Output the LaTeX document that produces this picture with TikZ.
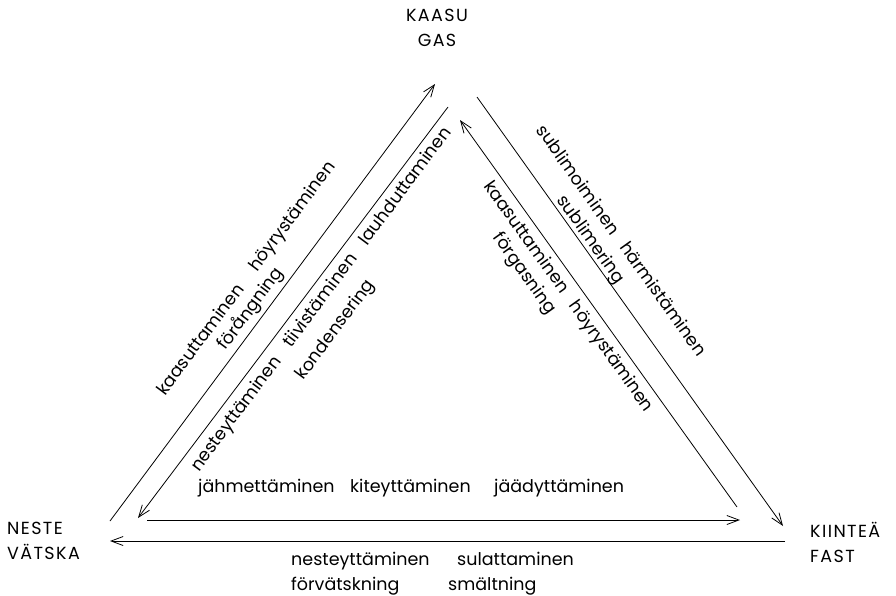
\documentclass[tikz,border=0pt]{standalone}
\usepackage{fontspec}
\setmainfont{Poppins}
\usetikzlibrary{arrows.meta}
\begin{document}
\begin{tikzpicture}[x=1pt,y=-1pt,
  lbl/.style={font=\fontsize{17.5}{17.5}\selectfont, inner sep=0pt},
  phase/.style={font=\fontsize{17.5}{25}\selectfont\addfontfeatures{LetterSpace=8}, align=left, inner sep=0pt},
  conn/.style={line width=0.8pt, -{Straight Barb[length=12pt,width=9pt,line width=0.8pt]}}]
\useasboundingbox (0,0) rectangle (896,595);
% phases
\node[phase, align=center] (gas) at (437,28) {KAASU\\GAS};
\node[phase, anchor=west] (liq) at (7,541) {NESTE\\VÄTSKA};
\node[phase, anchor=west] (sol) at (810,542) {KIINTEÄ\\FAST};
% connector end points
\coordinate (l1s) at (110,521); \coordinate (l1e) at (435,84);
\coordinate (l2s) at (448,107); \coordinate (l2e) at (138,518);
\coordinate (r1s) at (737,507); \coordinate (r1e) at (460,120);
\coordinate (r2s) at (477,97);  \coordinate (r2e) at (783,526);
\coordinate (h1s) at (147,520); \coordinate (h1e) at (740,520);
\coordinate (h2s) at (785,541); \coordinate (h2e) at (110,541);
\draw[conn] (l1s) -- (l1e);
\draw[conn] (l2s) -- (l2e);
\draw[conn] (r1s) -- (r1e);
\draw[conn] (r2s) -- (r2e);
\draw[conn] (h1s) -- (h1e);
\draw[conn] (h2s) -- (h2e);
% left side labels
\node[lbl, rotate=53.4] (a1) at (247,279) {kaasuttaminen\hspace{1.2em}höyrystäminen};
\node[lbl, rotate=53.4] (a2) at (251,309) {förångning};
\node[lbl, rotate=53.4] (b1) at (322,300) {nesteyttäminen\hspace{0.9em}tiivistäminen\hspace{0.9em}lauhduttaminen};
\node[lbl, rotate=53.4] (b2) at (336,330) {kondensering};
% right side labels
\node[lbl, rotate=-54.5] (c1) at (622,240) {sublimoiminen\hspace{0.8em}härmistäminen};
\node[lbl, rotate=-54.5] (c2) at (590,240) {sublimering};
\node[lbl, rotate=-54.5] (d1) at (568,297) {kaasuttaminen\hspace{0.8em}höyrystäminen};
\node[lbl, rotate=-54.5] (d2) at (524,274) {förgasning};
% bottom labels
\node[lbl, anchor=base west] (e1) at (198,492) {jähmettäminen};
\node[lbl, anchor=base west] (e2) at (350,492) {kiteyttäminen};
\node[lbl, anchor=base west] (e3) at (494,492) {jäädyttäminen};
\node[lbl, anchor=base west] (f1) at (291,565) {nesteyttäminen};
\node[lbl, anchor=base west] (f2) at (457,565) {sulattaminen};
\node[lbl, anchor=base west] (g1) at (291,590) {förvätskning};
\node[lbl, anchor=base west] (g2) at (448,590) {smältning};
\end{tikzpicture}
\end{document}
